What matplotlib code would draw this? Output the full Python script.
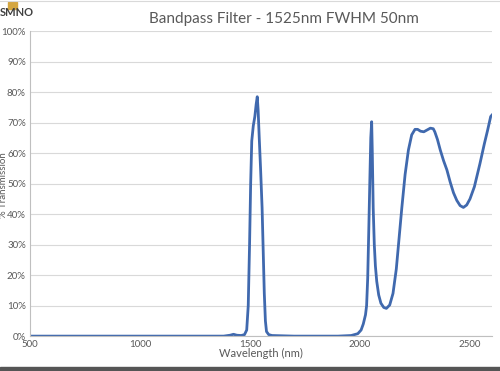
import matplotlib
matplotlib.use("Agg")
import matplotlib.pyplot as plt
from matplotlib.patches import Rectangle

# transmission curve (nm, %)
wavelength = [500, 1380, 1410, 1425, 1440, 1460, 1475, 1485, 1492, 1498, 1503, 1508,
              1515, 1522, 1528, 1533, 1537, 1542, 1548, 1555, 1560, 1565, 1570, 1575,
              1585, 1600, 1700, 1900, 1960, 1990, 2005, 2015, 2025, 2030, 2035, 2040,
              2045, 2049, 2053, 2056, 2060, 2065, 2070, 2076, 2085, 2095, 2108, 2120,
              2135, 2150, 2165, 2175, 2190, 2205, 2220, 2235, 2250, 2262, 2275, 2290,
              2305, 2320, 2333, 2340, 2352, 2365, 2380, 2395, 2410, 2425, 2440, 2455,
              2470, 2485, 2500, 2520, 2545, 2565, 2580, 2594, 2600]
transmission = [0, 0, 0.3, 0.6, 0.3, 0.2, 0.5, 2, 10, 30, 50, 64,
                69, 72, 76, 78.5, 74, 65, 55, 42, 28, 14, 5, 1.5,
                0.5, 0.2, 0, 0, 0.2, 0.8, 2, 4, 7, 10, 19, 35,
                52, 65, 70.3, 60, 42, 30, 23, 18, 13.5, 10.8, 9.4, 9.1,
                10.2, 14, 22, 30, 42, 53, 61, 66, 67.8, 67.8, 67.2, 67.0,
                67.6, 68.2, 68, 67, 64.5, 61, 57.5, 54.5, 50.5, 47, 44.5, 42.8,
                42.2, 43, 45, 49, 56.5, 63, 67.5, 72, 72.5]
x_ticks = [500, 1000, 1500, 2000, 2500]
y_ticks = list(range(0, 101, 10))

plt.rcParams.update({"font.family": ["Lato", "DejaVu Sans"]})
grey = "#595959"

fig = plt.figure(figsize=(5.0, 3.71), dpi=100)
ax = fig.add_axes([0.06, 0.094, 0.924, 0.822])
ax.plot(wavelength, transmission, color="#4069AE", lw=2.0, solid_joinstyle="round")

ax.set_xlim(500, 2600)
ax.set_ylim(0, 100)
ax.set_xticks(x_ticks)
ax.set_yticks(y_ticks)
ax.set_yticklabels([f"{t}%" for t in y_ticks])
ax.tick_params(length=0, labelsize=7, colors=grey, pad=3)
ax.grid(axis="y", color="#D9D9D9", lw=0.8)
ax.set_axisbelow(True)
for s in ["top", "right"]:
    ax.spines[s].set_visible(False)
ax.spines["left"].set_color("#BFBFBF")
ax.spines["bottom"].set_color("#BFBFBF")
ax.set_xlabel("Wavelength (nm)", fontsize=8, color=grey, labelpad=-1)

fig.text(0.568, 0.95, "Bandpass Filter - 1525nm FWHM 50nm", ha="center", va="center",
         fontsize=11, color=grey)
fig.text(0.008, 0.5, "% Transmission", rotation=90, ha="center", va="center",
         fontsize=7, color=grey)

# logo in the top left corner
fig.text(0.0, 0.965, "SMNO", ha="left", va="center", fontsize=8, fontweight="bold",
         color="#404040")
fig.patches.append(Rectangle((0.015, 0.975), 0.018, 0.02, transform=fig.transFigure,
                             color="#D4A640", figure=fig))

# frame lines of the image
fig.patches.append(Rectangle((0, 0), 1, 0.012, transform=fig.transFigure,
                             color="#555555", figure=fig))
fig.lines.append(plt.Line2D([0, 1], [0.996, 0.996], transform=fig.transFigure,
                            color="#D9D9D9", lw=0.8, figure=fig))

fig.savefig("out.png", dpi=100)
